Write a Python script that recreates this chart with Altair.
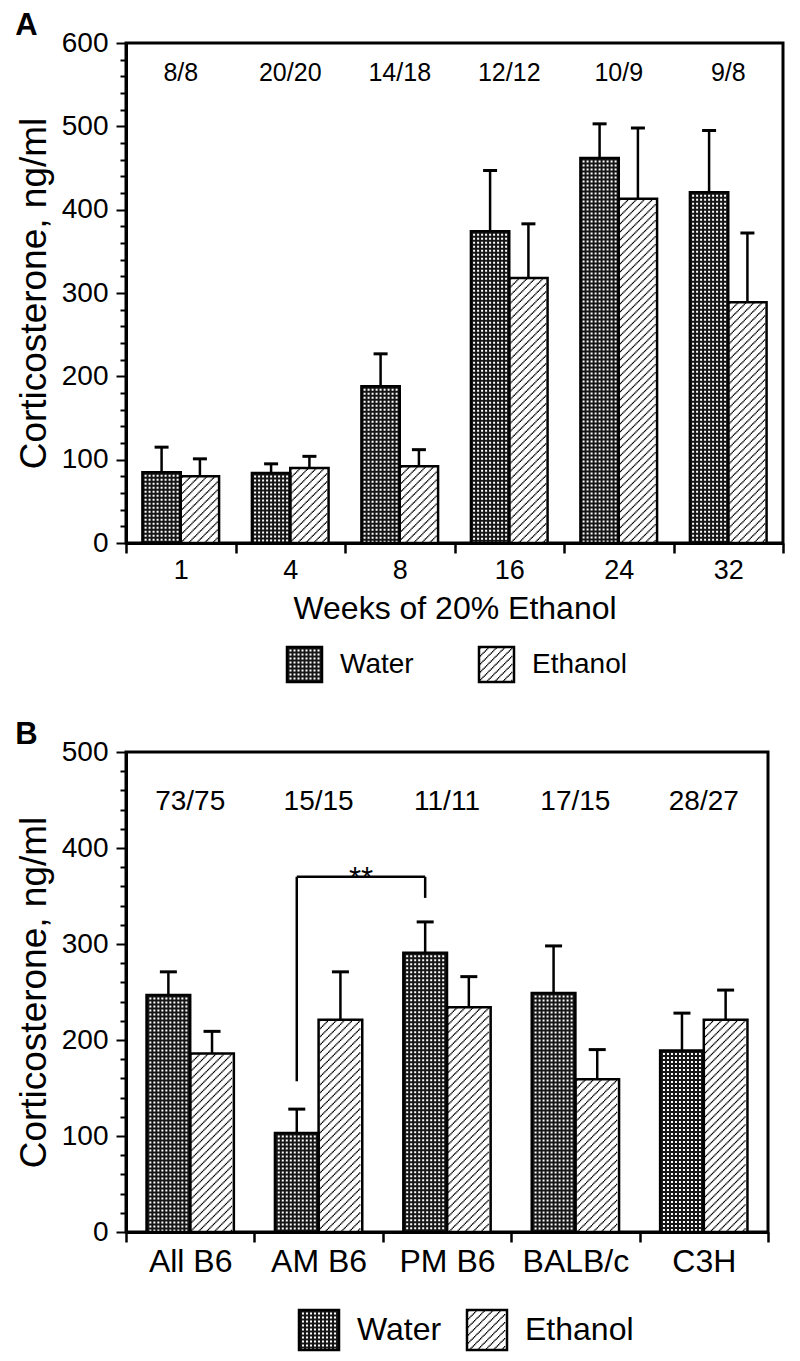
import altair as alt
import pandas as pd

FONT = "Liberation Sans"
SERIES = ["Water", "Ethanol"]
Y_TITLE = "Corticosterone, ng/ml"

# ---------------- Panel A data ----------------
WEEKS = ["1", "4", "8", "16", "24", "32"]
WATER_A = [85, 84, 188, 374, 462, 421]
WATER_A_SEM = [30, 11, 39, 73, 41, 74]
ETHANOL_A = [80, 90, 92, 318, 413, 289]
ETHANOL_A_SEM = [21, 14, 20, 65, 85, 83]
N_A = ["8/8", "20/20", "14/18", "12/12", "10/9", "9/8"]
Y_TICKS_A = list(range(0, 601, 20))

# ---------------- Panel B data ----------------
STRAINS = ["All B6", "AM B6", "PM B6", "BALB/c", "C3H"]
WATER_B = [247, 103, 291, 249, 189]
WATER_B_SEM = [24, 25, 32, 49, 39]
ETHANOL_B = [186, 221, 234, 159, 221]
ETHANOL_B_SEM = [23, 50, 32, 31, 31]
N_B = ["73/75", "15/15", "11/11", "17/15", "28/27"]
Y_TICKS_B = list(range(0, 501, 20))

SIG_FROM, SIG_TO = "AM B6", "PM B6"
SIG_Y = 370
SIG_FROM_LOW = 157
SIG_TO_LOW = 348
SIG_LABEL = "**"

# ---------------- styles ----------------
INK = "black"
DARK = "#161616"
LINE_W = 2.5
DOT, DOT_P = 2.0, 4.0
H_STEP, H_DASH, H_PERIOD = 1.2, 1.5, 8.0


def series_df(cats, vals, sems):
    return pd.DataFrame({"cat": cats, "value": vals,
                         "top": [v + s for v, s in zip(vals, sems)]})


def dot_columns(x_lo, x_hi):
    w = x_hi - x_lo
    n = int((w - 6.0) // DOT_P) + 1
    first = x_lo + (w - (n - 1) * DOT_P) / 2
    return [first + i * DOT_P for i in range(n)]


def hatch_columns(x_lo, x_hi):
    cols = []
    k = 0
    x = x_lo + 1.0 + H_STEP / 2
    while x <= x_hi - 1.0 - H_STEP / 2 + 1e-6:
        cols.append((x, k))
        k += 1
        x += H_STEP
    return cols


def pattern_layers(kind, data, xpos, band_px, lo, hi, yenc, y2enc):
    """Texture overlay (dots for Water, diagonal hatch for Ethanol)."""
    x_lo, x_hi = lo * band_px, hi * band_px
    out = []
    if kind == "Water":
        for px in dot_columns(x_lo, x_hi):
            out.append(alt.Chart(data).mark_rule(
                color="white", strokeWidth=DOT,
                strokeDash=[DOT, DOT_P - DOT], strokeDashOffset=DOT_P - 2.5
            ).encode(x=xpos(px / band_px), y=yenc, y2=y2enc))
    else:
        for px, k in hatch_columns(x_lo, x_hi):
            out.append(alt.Chart(data).mark_rule(
                color=INK, strokeWidth=H_STEP,
                strokeDash=[H_DASH, H_PERIOD - H_DASH],
                strokeDashOffset=(k * H_STEP) % H_PERIOD
            ).encode(x=xpos(px / band_px), y=yenc, y2=y2enc))
    return out


def make_axes(yticks, xlab_size, xtitle):
    x_axis = alt.Axis(tickBand="extent", labelAngle=0, labelFontSize=xlab_size,
                      labelPadding=4, tickSize=10, tickWidth=2.5, domainWidth=3,
                      title=xtitle, titleFontSize=32, titlePadding=10,
                      labelFont=FONT, titleFont=FONT, titleFontWeight="normal")
    y_axis = alt.Axis(values=yticks,
                      labelExpr="datum.value % 100 === 0 ? datum.label : ''",
                      tickSize={"condition": {"test": "datum.value % 100 === 0", "value": 10},
                                "value": 6},
                      tickWidth=2, labelFontSize=28, labelPadding=8, domainWidth=3,
                      title=Y_TITLE, titleFontSize=37, titlePadding=8,
                      labelFont=FONT, titleFont=FONT, titleFontWeight="normal")
    return x_axis, y_axis


def panel(letter, cats, water, water_sem, eth, eth_sem, counts, count_y,
          yticks, ymax, width, height, bpos, xlab_size, xtitle, count_size,
          cap_half, legend, extra=None):
    band_px = width / len(cats)
    xscale = alt.Scale(domain=cats, paddingInner=0, paddingOuter=0)
    yscale = alt.Scale(domain=[0, ymax], nice=False)
    x_axis, y_axis = make_axes(yticks, xlab_size, xtitle)

    def xpos(bp, field="cat"):
        return alt.X(f"{field}:N", scale=xscale, bandPosition=bp, axis=x_axis)

    def yq(field):
        return alt.Y(f"{field}:Q", scale=yscale, axis=y_axis)

    y_val = yq("value")
    y0 = alt.datum(0)

    dfw = series_df(cats, water, water_sem)
    dfe = series_df(cats, eth, eth_sem)
    b0, b1, b2 = bpos
    spans = {"Water": (dfw, b0, b1), "Ethanol": (dfe, b1, b2)}

    layers = []
    # bar fills
    layers.append(alt.Chart(dfw).mark_bar(orient="vertical", fill=DARK, strokeWidth=0).encode(
        x=xpos(b0), x2=alt.X2("cat", bandPosition=b1), y=y_val, y2=y0))
    layers.append(alt.Chart(dfe).mark_bar(orient="vertical", fill="white", strokeWidth=0).encode(
        x=xpos(b1), x2=alt.X2("cat", bandPosition=b2), y=y_val, y2=y0))
    # textures
    for name in SERIES:
        d, lo, hi = spans[name]
        layers += pattern_layers(name, d, xpos, band_px, lo, hi, y_val, y0)
    # outlines
    for name in SERIES:
        d, lo, hi = spans[name]
        layers.append(alt.Chart(d).mark_bar(orient="vertical", filled=False, stroke=INK,
                                            strokeWidth=LINE_W).encode(
            x=xpos(lo), x2=alt.X2("cat", bandPosition=hi), y=y_val, y2=y0))
    # error bars
    for name in SERIES:
        d, lo, hi = spans[name]
        c = (lo + hi) / 2
        layers.append(alt.Chart(d).mark_rule(color=INK, strokeWidth=2.5).encode(
            x=xpos(c), y=y_val, y2=alt.Y2("top")))
        layers.append(alt.Chart(d).mark_rule(color=INK, strokeWidth=3).encode(
            x=xpos(c - cap_half / band_px),
            x2=alt.X2("cat", bandPosition=c + cap_half / band_px),
            y=yq("top")))
    # n labels
    dfn = pd.DataFrame({"cat": cats, "n": counts, "ny": [count_y] * len(cats)})
    layers.append(alt.Chart(dfn).mark_text(fontSize=count_size, font=FONT, color=INK,
                                           baseline="middle").encode(
        x=xpos(0.5), y=yq("ny"), text="n:N"))
    if extra:
        layers += extra(xpos, yq, (b0 + b1) / 2)

    # legend (key boxes below the axis)
    l0, lstep, sq, ltop, lfs, ldx = legend
    ly, ly2 = alt.value(ltop), alt.value(ltop + sq)
    for i, (name, fill) in enumerate([("Water", DARK), ("Ethanol", "white")]):
        start = l0 + i * lstep
        d = pd.DataFrame({"series": [name]})

        def lx(bp, start=start):
            return alt.value(start + bp * sq)

        layers.append(alt.Chart(d).mark_rect(fill=fill, strokeWidth=0).encode(
            x=lx(0), x2=lx(1), y=ly, y2=ly2))
        layers += pattern_layers(name, d, lx, sq, 0, 1, ly, ly2)
        layers.append(alt.Chart(d).mark_rect(filled=False, stroke=INK, strokeWidth=LINE_W).encode(
            x=lx(0), x2=lx(1), y=ly, y2=ly2))
        layers.append(alt.Chart(d).mark_text(align="left", baseline="middle", dx=ldx,
                                             fontSize=lfs, font=FONT, color=INK).encode(
            x=lx(0), y=alt.value(ltop + sq / 2), text="series:N"))

    return alt.layer(*layers).properties(
        width=width, height=height,
        title=alt.TitleParams(letter, anchor="start", frame="bounds", fontSize=31,
                              fontWeight="bold", font=FONT, offset=-13, color=INK))


def sig_bracket(xpos, yq, wc):
    d = pd.DataFrame({"a": [SIG_FROM], "b": [SIG_TO], "y": [SIG_Y],
                      "ya": [SIG_FROM_LOW], "yb": [SIG_TO_LOW], "t": [SIG_LABEL]})
    yy = yq("y")
    return [
        alt.Chart(d).mark_rule(color=INK, strokeWidth=2.5).encode(
            x=xpos(wc, "a"), x2=alt.X2("b", bandPosition=wc), y=yy),
        alt.Chart(d).mark_rule(color=INK, strokeWidth=2.5).encode(
            x=xpos(wc, "a"), y=yy, y2=alt.Y2("ya")),
        alt.Chart(d).mark_rule(color=INK, strokeWidth=2.5).encode(
            x=xpos(wc, "b"), y=yy, y2=alt.Y2("yb")),
        alt.Chart(d).mark_text(fontSize=31, font=FONT, color=INK, baseline="alphabetic",
                               dy=12).encode(
            x=xpos(wc + 0.5, "a"), y=yy, text="t:N"),
    ]


panel_a = panel("A", WEEKS, WATER_A, WATER_A_SEM, ETHANOL_A, ETHANOL_A_SEM, N_A, 564,
                Y_TICKS_A, 600, 657, 500, (0.15, 0.5, 0.85), 27,
                "Weeks of 20% Ethanol", 25, 7,
                (161, 192, 35, 604, 28, 53))

panel_b = panel("B", STRAINS, WATER_B, WATER_B_SEM, ETHANOL_B, ETHANOL_B_SEM, N_B, 448,
                Y_TICKS_B, 500, 642, 480, (0.16, 0.5, 0.84), 32,
                None, 28, 8.5,
                (173, 168, 40, 558, 32, 58), extra=sig_bracket)

chart = alt.vconcat(panel_a, panel_b, spacing=32).properties(
    background="white",
    padding={"left": 5, "top": 0, "right": 5, "bottom": 0},
).configure_view(
    stroke=INK, strokeWidth=3
).configure_axis(
    domainColor=INK, tickColor=INK, labelColor=INK, titleColor=INK, grid=False
)

chart.save("out.html", embed_options={"renderer": "svg", "actions": False})
